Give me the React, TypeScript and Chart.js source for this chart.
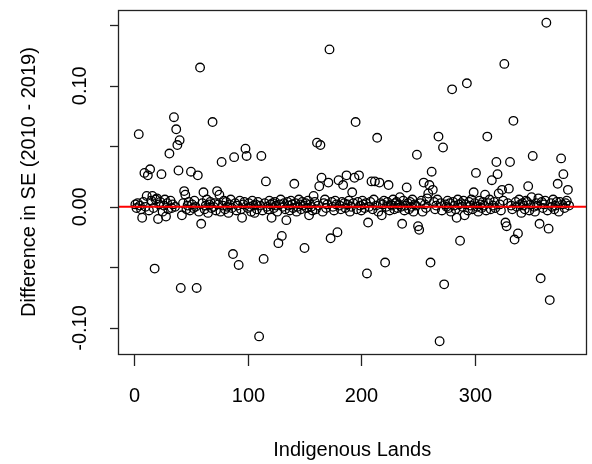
import React, { useEffect, useRef } from "react";
import Chart from "chart.js/auto";

// Difference in SE (2010 - 2019) for each Indigenous Land, index 1..383
const seDifference: number[] = [
  0.002, -0.001, 0.003, 0.060, 0.001, -0.002, -0.009, 0.004, 0.028, 0.000,
  0.009, 0.026, -0.003, 0.031, 0.005, 0.009, -0.001, -0.051, 0.006, 0.007,
  -0.010, 0.002, 0.004, 0.027, -0.004, 0.001, 0.006, -0.008, 0.003, -0.002,
  0.044, 0.005, -0.001, 0.002, 0.074, 0.000, 0.064, 0.051, 0.030, 0.055,
  -0.067, -0.007, 0.003, 0.013, 0.010, -0.002, 0.001, 0.004, -0.003, 0.029,
  0.002, -0.001, 0.005, 0.000, -0.067, 0.026, -0.004, 0.115, -0.014, 0.003,
  0.012, -0.002, 0.001, 0.006, -0.005, 0.002, 0.004, -0.001, 0.070, 0.000,
  0.003, -0.003, 0.013, 0.002, 0.010, -0.004, 0.037, 0.001, 0.005, -0.002,
  0.004, 0.000, -0.005, 0.002, 0.006, -0.001, -0.039, 0.041, 0.003, -0.003,
  0.001, -0.048, 0.005, -0.002, -0.009, 0.002, 0.004, 0.048, 0.042, -0.001,
  0.003, 0.000, -0.004, 0.005, 0.001, -0.005, 0.002, -0.002, 0.004, -0.107,
  0.001, 0.042, -0.003, -0.043, 0.003, 0.021, 0.000, -0.002, 0.005, 0.002,
  -0.009, 0.003, -0.001, 0.004, 0.001, -0.004, -0.030, 0.002, 0.006, -0.024,
  0.000, 0.003, -0.002, -0.011, 0.004, 0.001, -0.003, 0.005, 0.002, -0.001,
  0.019, 0.003, -0.004, 0.000, 0.006, 0.002, -0.002, 0.004, 0.001, -0.034,
  0.003, -0.001, 0.005, -0.007, 0.002, 0.000, -0.003, 0.009, 0.004, -0.002,
  0.053, 0.001, 0.017, 0.051, 0.024, -0.004, 0.003, 0.006, -0.001, 0.002,
  0.020, 0.130, -0.026, 0.004, 0.000, -0.003, 0.005, 0.002, -0.021, 0.022,
  0.001, -0.002, 0.004, 0.018, 0.003, -0.001, 0.026, 0.002, 0.005, -0.004,
  0.000, 0.012, 0.003, 0.024, 0.070, -0.002, 0.004, 0.026, 0.001, -0.003,
  0.005, 0.002, -0.001, 0.003, -0.055, -0.013, 0.000, 0.004, 0.021, -0.002,
  0.006, 0.021, 0.001, 0.057, -0.004, 0.020, 0.003, -0.007, 0.002, 0.005,
  -0.046, 0.000, 0.004, 0.018, -0.003, 0.002, 0.001, 0.006, -0.002, 0.003,
  0.004, -0.001, 0.002, 0.008, 0.000, -0.014, 0.005, -0.003, 0.001, 0.016,
  0.003, -0.002, 0.004, 0.000, 0.006, -0.004, 0.002, 0.001, 0.043, -0.016,
  -0.019, 0.003, 0.005, -0.004, 0.020, 0.002, -0.001, 0.007, 0.011, 0.018,
  -0.046, 0.029, 0.014, 0.004, -0.002, 0.001, 0.006, 0.058, -0.111, 0.003,
  -0.003, 0.049, -0.064, 0.002, 0.000, 0.005, -0.001, 0.003, -0.004, 0.097,
  0.004, 0.001, -0.002, -0.009, 0.006, 0.002, -0.028, 0.003, 0.000, 0.005,
  -0.007, 0.002, 0.102, -0.003, 0.004, 0.001, 0.006, -0.002, 0.012, 0.003,
  0.028, 0.000, -0.004, 0.005, 0.002, -0.001, 0.004, 0.001, 0.010, -0.003,
  0.058, 0.003, 0.006, -0.002, 0.022, 0.001, 0.004, -0.001, 0.037, 0.027,
  0.011, 0.002, -0.003, 0.014, 0.005, 0.118, -0.013, -0.016, 0.003, 0.015,
  0.037, 0.001, -0.002, 0.071, -0.027, 0.004, 0.000, -0.022, 0.006, 0.002,
  -0.005, 0.003, 0.001, -0.002, 0.005, 0.004, 0.017, -0.003, 0.002, 0.008,
  0.042, 0.000, -0.004, 0.003, 0.001, 0.007, -0.014, -0.059, 0.004, -0.001,
  0.002, 0.005, 0.152, -0.003, -0.018, -0.077, 0.003, 0.000, 0.006, -0.002,
  0.001, 0.004, 0.019, -0.004, 0.004, 0.040, 0.002, 0.027, -0.001, 0.003,
  0.005, 0.014, 0.001,
];

const xTicks: number[] = [0, 100, 200, 300];
const xTickLabels: string[] = ["0", "100", "200", "300"];
const yTicks: number[] = [-0.1, -0.05, 0, 0.05, 0.1, 0.15];
const yLabelledTicks: number[] = [-0.1, 0, 0.1];
const yTickLabels: string[] = ["-0.10", "0.00", "0.10"];
const xTitle = "Indigenous Lands";
const yTitle = "Difference in SE (2010 - 2019)";
const refLineValue = 0;

const FONT = '20px "Liberation Sans", Arial, sans-serif';

export default function App() {
  const canvasRef = useRef<HTMLCanvasElement | null>(null);

  useEffect(() => {
    if (!canvasRef.current) return;
    const n = seDifference.length;
    const points = seDifference.map((v, i) => ({ x: i + 1, y: v }));
    const yMin = Math.min(...seDifference);
    const yMax = Math.max(...seDifference);
    const xPad = (n - 1) * 0.04;
    const yPad = (yMax - yMin) * 0.04;
    const xMin = 1 - xPad;
    const xMax = n + xPad;

    const rAxes = {
      id: "rAxes",
      afterDraw(chart: any) {
        const { ctx, chartArea, scales } = chart;
        const xs = scales.x;
        const ys = scales.y;
        ctx.save();
        ctx.strokeStyle = "#222";
        ctx.lineWidth = 1.3;
        ctx.strokeRect(
          Math.round(chartArea.left) + 0.5,
          Math.round(chartArea.top) + 0.5,
          Math.round(chartArea.right - chartArea.left),
          Math.round(chartArea.bottom - chartArea.top)
        );
        ctx.fillStyle = "#000";
        ctx.font = FONT;
        // x ticks
        xTicks.forEach((v, i) => {
          const px = Math.round(xs.getPixelForValue(v)) + 0.5;
          ctx.beginPath();
          ctx.moveTo(px, chartArea.bottom);
          ctx.lineTo(px, chartArea.bottom + 12);
          ctx.stroke();
          ctx.textAlign = "center";
          ctx.textBaseline = "middle";
          ctx.fillText(xTickLabels[i], px, 396);
        });
        // y ticks
        yTicks.forEach((v) => {
          const py = Math.round(ys.getPixelForValue(v)) + 0.5;
          ctx.beginPath();
          ctx.moveTo(chartArea.left - 8, py);
          ctx.lineTo(chartArea.left, py);
          ctx.stroke();
        });
        yLabelledTicks.forEach((v, i) => {
          const py = ys.getPixelForValue(v);
          ctx.save();
          ctx.translate(80, py);
          ctx.rotate(-Math.PI / 2);
          ctx.textAlign = "center";
          ctx.textBaseline = "middle";
          ctx.fillText(yTickLabels[i], 0, 0);
          ctx.restore();
        });
        // titles
        ctx.textAlign = "center";
        ctx.textBaseline = "middle";
        ctx.fillText(xTitle, (chartArea.left + chartArea.right) / 2, 450);
        ctx.save();
        ctx.translate(29, (chartArea.top + chartArea.bottom) / 2);
        ctx.rotate(-Math.PI / 2);
        ctx.fillText(yTitle, 0, 0);
        ctx.restore();
        ctx.restore();
      },
    };

    const chart = new Chart(canvasRef.current, {
      type: "scatter",
      data: {
        datasets: [
          {
            type: "line",
            data: [
              { x: xMin, y: refLineValue },
              { x: xMax, y: refLineValue },
            ],
            borderColor: "#ff0000",
            borderWidth: 2,
            pointRadius: 0,
            order: 0,
          } as any,
          {
            data: points,
            pointStyle: "circle",
            pointRadius: 4.3,
            pointBorderWidth: 1.3,
            borderColor: "#000",
            backgroundColor: "rgba(0,0,0,0)",
            pointBackgroundColor: "rgba(0,0,0,0)",
            pointBorderColor: "#000",
            order: 1,
          },
        ],
      },
      options: {
        responsive: false,
        animation: false,
        devicePixelRatio: 1,
        layout: { padding: { left: 118, top: 10, right: 4, bottom: 110 } },
        plugins: { legend: { display: false }, tooltip: { enabled: false } },
        scales: {
          x: { type: "linear", display: false, min: xMin, max: xMax },
          y: { type: "linear", display: false, min: yMin - yPad, max: yMax + yPad },
        },
      },
      plugins: [rAxes],
    });
    return () => chart.destroy();
  }, []);

  return (
    <div style={{ position: "fixed", left: 0, top: 0, width: 592, height: 464, background: "#fff" }}>
      <canvas ref={canvasRef} width={592} height={464} />
    </div>
  );
}
